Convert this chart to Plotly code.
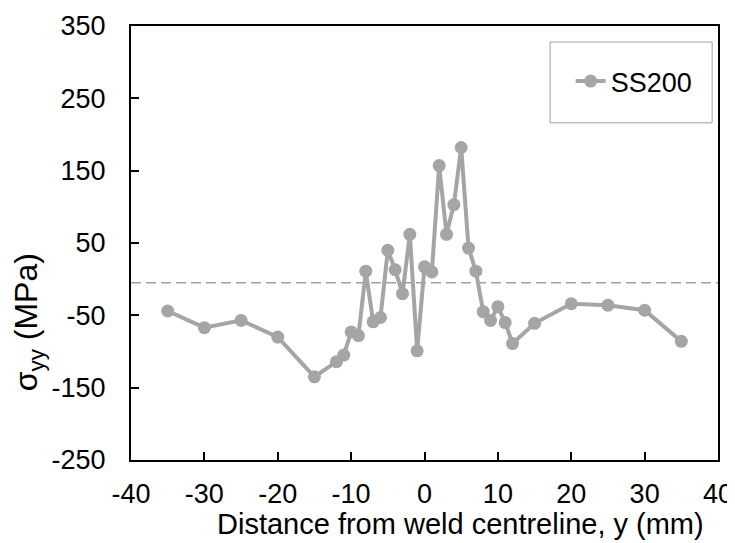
import plotly.graph_objects as go

# Data
distance_mm = [-35, -30, -25, -20, -15, -12, -11, -10, -9, -8, -7, -6, -5, -4, -3, -2, -1,
               0, 1, 2, 3, 4, 5, 6, 7, 8, 9, 10, 11, 12, 15, 20, 25, 30, 35]
sigma_yy = [-44, -67, -57, -80, -135, -114, -105, -73, -78, 11, -59, -53, 40, 13, -20, 62, -99,
            17, 10, 157, 62, 103, 182, 43, 11, -45, -57, -38, -60, -89, -61, -34, -36, -43, -86]
series_name = "SS200"

reference_x = [-40, 40]
reference_level = [-5, -5]

x_ticks = [-40, -30, -20, -10, 0, 10, 20, 30, 40]
x_tick_labels = ["-40", "-30", "-20", "-10", "0", "10", "20", "30", "40"]
y_ticks = [-250, -150, -50, 50, 150, 250, 350]
y_tick_labels = ["-250", "-150", "-50", "50", "150", "250", "350"]

x_title = "Distance from weld centreline, y (mm)"
y_title = "σ<sub>yy</sub> (MPa)"

FONT = "Arial, Liberation Sans, sans-serif"
GREY = "#A5A5A5"

fig = go.Figure()
fig.add_trace(go.Scatter(
    x=reference_x, y=reference_level, mode="lines",
    line=dict(color="#A0A0A0", width=1.5, dash="10px,5px"),
    showlegend=False, hoverinfo="skip"))
fig.add_trace(go.Scatter(
    x=distance_mm, y=sigma_yy, mode="lines+markers", name=series_name,
    line=dict(color=GREY, width=4),
    marker=dict(color=GREY, size=13)))

axis_common = dict(
    showgrid=False, zeroline=False, showline=True, linecolor="black", linewidth=2,
    mirror=True, ticks="inside", ticklen=8, tickwidth=2, tickcolor="black",
    automargin=False,
    tickfont=dict(family=FONT, size=27, color="black"),
)
fig.update_xaxes(range=[-40, 40], tickvals=x_ticks, ticktext=x_tick_labels,
                 ticklabelstandoff=9, **axis_common)
fig.update_yaxes(range=[-250, 350], tickvals=y_ticks, ticktext=y_tick_labels,
                 ticklabelstandoff=18, **axis_common)

fig.add_annotation(text=x_title, xref="paper", yref="paper",
                   x=0.562, y=-0.147, xanchor="center", yanchor="middle", showarrow=False,
                   borderpad=0,
                   font=dict(family=FONT, size=29, color="black"))
fig.add_annotation(text=y_title, xref="paper", yref="paper",
                   x=-0.174, y=0.317, xanchor="center", yanchor="middle",
                   textangle=-90, showarrow=False,
                   font=dict(family=FONT, size=32, color="black"))

# legend frame
fig.add_shape(type="rect", xref="paper", yref="paper", x0=0.714, x1=0.990, y0=0.777, y1=0.963,
              line=dict(color="#A0A0A0", width=1), fillcolor="rgba(0,0,0,0)", layer="above")
# partially visible blue frame at right edge
fig.add_shape(type="rect", xref="paper", yref="paper", x0=1.034, x1=1.2, y0=0.029, y1=0.945,
              line=dict(color="#4F81BD", width=3), fillcolor="white")

fig.update_layout(
    width=735, height=543,
    margin=dict(l=123, r=25, t=18, b=91),
    plot_bgcolor="white", paper_bgcolor="white",
    showlegend=True,
    legend=dict(x=0.749, y=0.872, xanchor="left", yanchor="middle",
                bgcolor="rgba(0,0,0,0)", borderwidth=0,
                font=dict(family=FONT, size=27, color="black")),
)

fig.write_html("out.html")
